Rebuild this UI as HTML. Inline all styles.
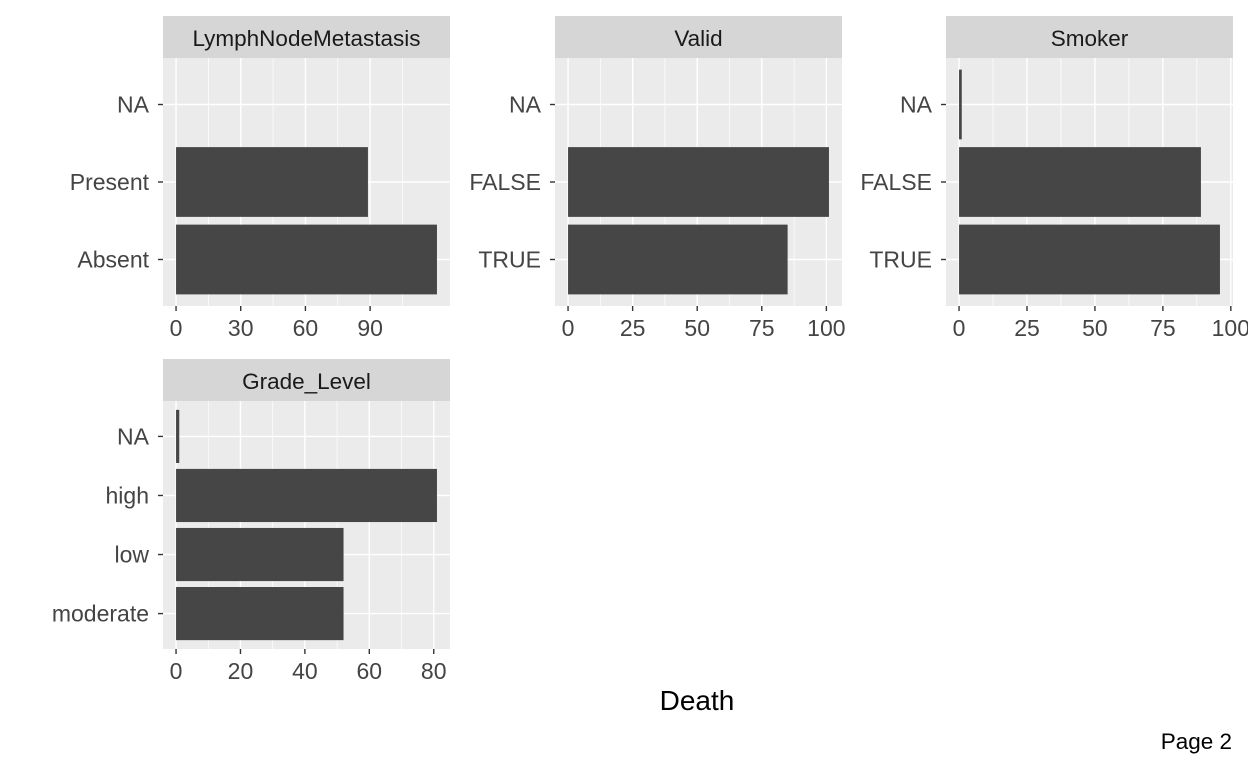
<!DOCTYPE html>
<html><head><meta charset="utf-8"><style>
html,body{margin:0;padding:0;background:#fff;}
svg{display:block;font-family:"Liberation Sans",Arial,sans-serif;}
</style></head>
<body>
<svg id="chart" width="1248" height="768" viewBox="0 0 1248 768"></svg>
<script>
const titles = ["LymphNodeMetastasis","Valid","Smoker","Grade_Level"];
const cats1 = ["NA","Present","Absent"];
const vals1 = [0,89,121];
const ticks1 = [0,30,60,90];
const cats2 = ["NA","FALSE","TRUE"];
const vals2 = [0,101,85];
const ticks2 = [0,25,50,75,100];
const cats3 = ["NA","FALSE","TRUE"];
const vals3 = [1,89,96];
const ticks3 = [0,25,50,75,100];
const cats4 = ["NA","high","low","moderate"];
const vals4 = [1,81,52,52];
const ticks4 = [0,20,40,60,80];

const NS="http://www.w3.org/2000/svg";
const svg=document.getElementById('chart');
function mk(tag,attrs,parent,text){const e=document.createElementNS(NS,tag);for(const k in attrs)e.setAttribute(k,attrs[k]);if(text!==undefined)e.textContent=text;(parent||svg).appendChild(e);return e;}

const panels=[
 {x:163,y:58,sy:16,title:titles[0],cats:cats1,vals:vals1,ticks:ticks1},
 {x:555,y:58,sy:16,title:titles[1],cats:cats2,vals:vals2,ticks:ticks2},
 {x:946,y:58,sy:16,title:titles[2],cats:cats3,vals:vals3,ticks:ticks3},
 {x:163,y:401,sy:359,title:titles[3],cats:cats4,vals:vals4,ticks:ticks4}
];
const W=287,H=248;
panels.forEach((p,pi)=>{
  const g=mk('g',{});
  
  
  const maxv=Math.max(...p.vals);
  const lo=-0.05*maxv, hi=maxv*1.05;
  const xs=v=>p.x+(v-lo)/(hi-lo)*W;
  const n=p.cats.length;
  const unit=H/(n-1+1.2);
  const ys=i=>p.y+(0.6+i)*unit;
  const st=mk('rect',{x:p.x,y:p.sy,width:W,height:p.y-p.sy,fill:'#d6d6d6'},g);
  
  
  const stt=mk('text',{x:p.x+W/2,y:p.sy+30,'text-anchor':'middle','font-size':22.5,fill:'#1a1a1a'},g,p.title);
  
  
  const bg=mk('rect',{x:p.x,y:p.y,width:W,height:H,fill:'#ebebeb'},g);
  
  
  for(let k=0;k<p.ticks.length-1;k++){
    const m=(p.ticks[k]+p.ticks[k+1])/2;
    mk('line',{x1:xs(m),x2:xs(m),y1:p.y,y2:p.y+H,stroke:'#fff','stroke-width':0.7},g);
  }
  const step=p.ticks[1]-p.ticks[0];
  const ext=p.ticks[p.ticks.length-1]+step/2;
  if(xs(ext)<p.x+W) mk('line',{x1:xs(ext),x2:xs(ext),y1:p.y,y2:p.y+H,stroke:'#fff','stroke-width':0.7},g);
  p.ticks.forEach(t=>mk('line',{x1:xs(t),x2:xs(t),y1:p.y,y2:p.y+H,stroke:'#fff','stroke-width':1.4},g));
  p.cats.forEach((c,i)=>mk('line',{x1:p.x,x2:p.x+W,y1:ys(i),y2:ys(i),stroke:'#fff','stroke-width':1.4},g));
  p.vals.forEach((v,i)=>{
    if(v<=0)return;
    const b=mk('rect',{x:xs(0),y:ys(i)-0.45*unit,width:xs(v)-xs(0),height:0.9*unit,fill:'#464646'},g);
    
    
  });
  p.cats.forEach((c,i)=>{
    mk('line',{x1:p.x-5,x2:p.x,y1:ys(i),y2:ys(i),stroke:'#333','stroke-width':1.4},g);
    const t=mk('text',{x:p.x-14,y:ys(i)+8,'text-anchor':'end','font-size':23,fill:'#444'},g,c);
    
    
  });
  p.ticks.forEach(tv=>{
    mk('line',{x1:xs(tv),x2:xs(tv),y1:p.y+H,y2:p.y+H+5,stroke:'#333','stroke-width':1.4},g);
    const t=mk('text',{x:xs(tv),y:p.y+H+30,'text-anchor':'middle','font-size':23,fill:'#444'},g,tv);
    
    
  });
});
const xt=mk('text',{x:697,y:710,'text-anchor':'middle','font-size':28,fill:'#000'},svg,'Death');


const pg=mk('text',{x:1232,y:749,'text-anchor':'end','font-size':22.5,fill:'#000'},svg,'Page 2');


</script>
</body></html>
